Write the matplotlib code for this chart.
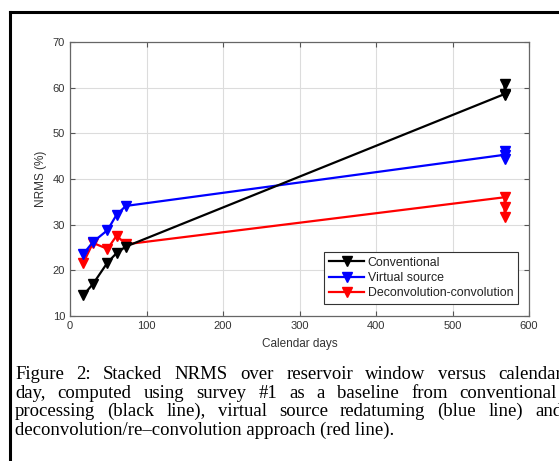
import matplotlib
matplotlib.use('Agg')
import matplotlib.pyplot as plt
from matplotlib.lines import Line2D

# Calendar days for each survey (several surveys at the last date)
days = [17, 30, 49, 61, 73, 568, 568, 568]

# NRMS (%) for each processing method
conventional = [14.5, 17.0, 21.7, 23.8, 25.2, 58.6, 58.5, 60.7]
virtual_source = [23.5, 26.2, 28.8, 32.2, 34.1, 45.3, 44.3, 46.2]
deconv_conv = [21.5, 26.0, 24.7, 27.6, 25.7, 36.0, 33.8, 31.6]

xticks = [0, 100, 200, 300, 400, 500, 600]
yticks = [10, 20, 30, 40, 50, 60, 70]

caption = [
    "Figure 2:  Stacked NRMS over reservoir window versus calendar",
    "day, computed using survey #1 as a baseline from conventional",
    "processing (black line), virtual source redatuming (blue line) and",
    "deconvolution/re\u2013convolution approach (red line).",
]

W, H = 559, 461
fig = plt.figure(figsize=(W / 100, H / 100), dpi=100)
plt.rcParams['font.family'] = ['Liberation Sans', 'DejaVu Sans']

ax = fig.add_axes([70 / W, 1 - 316 / H, (529 - 70) / W, (316 - 42) / H])

ax.plot(days, deconv_conv, color='#ff0000', marker='v', markersize=7,
        linewidth=1.6, label='Deconvolution-convolution', zorder=3)
ax.plot(days, virtual_source, color='#0000ff', marker='v', markersize=7,
        linewidth=1.6, label='Virtual source', zorder=4)
ax.plot(days, conventional, color='black', marker='v', markersize=7,
        linewidth=1.6, label='Conventional', zorder=5)

ax.set_xlim(0, 600)
ax.set_ylim(10, 70)
ax.set_xticks(xticks)
ax.set_yticks(yticks)
ax.grid(True, color='#dcdcdc', linewidth=0.8)
ax.set_axisbelow(True)
ax.tick_params(direction='in', top=True, right=True, labelsize=8,
               colors='#555555', labelcolor='#333333', length=3.5, width=0.8)
for s in ax.spines.values():
    s.set_color('#666666')
    s.set_linewidth(0.9)
ax.set_xlabel('Calendar days', fontsize=8.5, color='#333333', labelpad=5)
ax.set_ylabel('NRMS (%)', fontsize=8.5, color='#333333', labelpad=4)

handles, labels = ax.get_legend_handles_labels()
leg = ax.legend(handles[::-1], labels[::-1], loc='lower right',
                bbox_to_anchor=(0.976, 0.044), borderaxespad=0, fontsize=8.9,
                fancybox=False, framealpha=1, edgecolor='#333333',
                handlelength=2.8, handletextpad=0.3, labelspacing=0.25,
                borderpad=0.4)
leg.get_frame().set_linewidth(0.8)
for t in leg.get_texts():
    t.set_color('#222222')

# page frame around the figure
fig.add_artist(Line2D([10 / W, 1.0], [1 - 12 / H, 1 - 12 / H],
                      color='black', linewidth=2.2, transform=fig.transFigure))
fig.add_artist(Line2D([10 / W, 10 / W], [1 - 12 / H, 0.0],
                      color='black', linewidth=2.2, transform=fig.transFigure))

# caption, justified for the first three lines
renderer = fig.canvas.get_renderer()
x_left = 15
x_right = [562, 557, 562, None]
baselines = [379, 397.5, 416, 434.5]
cap_font = dict(family=['Liberation Serif', 'DejaVu Serif'], fontsize=13.5,
                color='black', va='baseline', ha='left')
for line, base, right in zip(caption, baselines, x_right):
    y = 1 - base / H
    if right is None:
        fig.text(x_left / W, y, line, **cap_font)
        continue
    words = line.split()
    texts = [fig.text(0, y, w_, **cap_font) for w_ in words]
    widths = [t.get_window_extent(renderer).width for t in texts]
    gap = (right - x_left - sum(widths)) / (len(words) - 1)
    x = x_left
    for t, w_ in zip(texts, widths):
        t.set_x(x / W)
        x += w_ + gap

fig.savefig('out.png', dpi=100)
